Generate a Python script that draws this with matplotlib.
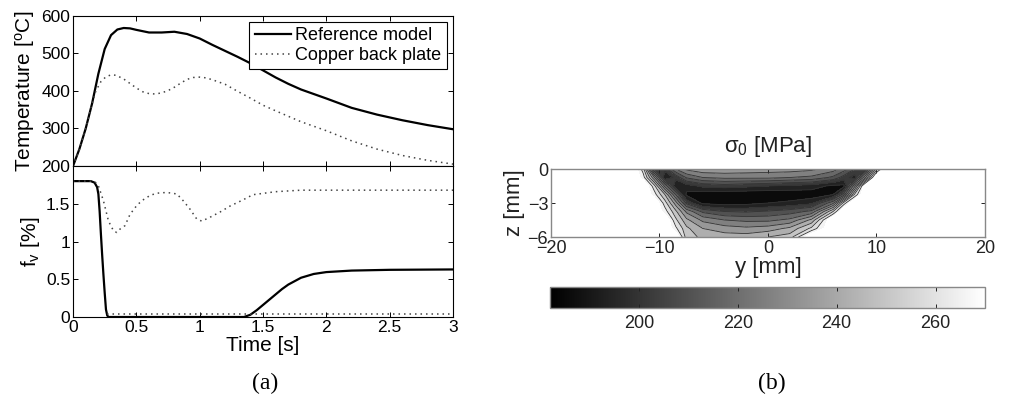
import numpy as np
import matplotlib
matplotlib.use("Agg")
import matplotlib.pyplot as plt
from matplotlib import cm, colors

plt.rcParams['font.family'] = ['Liberation Sans', 'DejaVu Sans']
plt.rcParams['mathtext.fontset'] = 'custom'
plt.rcParams['mathtext.rm'] = 'Liberation Sans'
plt.rcParams['mathtext.it'] = 'Liberation Sans:italic'
plt.rcParams['font.size'] = 12.5

# (a) temperature history
t_ref = [0, 0.05, 0.1, 0.15, 0.2, 0.25, 0.3, 0.35, 0.4, 0.45, 0.5, 0.6, 0.7, 0.8, 0.9,
         1.0, 1.1, 1.2, 1.3, 1.4, 1.5, 1.6, 1.7, 1.8, 2.0, 2.2, 2.4, 2.6, 2.8, 3.0]
T_ref = [200, 245, 300, 366, 446, 512, 549, 564, 568, 567, 563, 556, 556, 558, 552,
         540, 523, 507, 491, 474, 455, 436, 419, 404, 380, 355, 337, 322, 309, 298]

t_cu = [0, 0.05, 0.1, 0.15, 0.18, 0.22, 0.26, 0.3, 0.34, 0.4, 0.45, 0.5, 0.55, 0.6, 0.65,
        0.7, 0.75, 0.8, 0.85, 0.9, 0.95, 1.0, 1.05, 1.1, 1.2, 1.3, 1.4, 1.5, 1.6, 1.8,
        2.0, 2.2, 2.4, 2.6, 2.8, 3.0]
T_cu = [200, 245, 300, 366, 400, 425, 438, 443, 442, 432, 420, 408, 398, 393, 392,
        395, 401, 410, 421, 431, 436, 437, 435, 430, 418, 399, 381, 362, 347, 318,
        294, 267, 245, 228, 215, 205]

# (a) phase fraction
t_fv_ref = [0, 0.14, 0.17, 0.19, 0.2, 0.21, 0.22, 0.23, 0.24, 0.25, 0.26, 0.27, 0.28,
            1.35, 1.4, 1.45, 1.5, 1.55, 1.6, 1.65, 1.7, 1.8, 1.9, 2.0, 2.2, 2.5, 3.0]
fv_ref = [1.8, 1.8, 1.78, 1.72, 1.63, 1.4, 1.1, 0.82, 0.56, 0.32, 0.1, 0.02, 0.0,
          0.0, 0.03, 0.09, 0.16, 0.23, 0.30, 0.37, 0.43, 0.52, 0.57, 0.595, 0.615, 0.625, 0.63]

t_fv_cu = [0, 0.15, 0.18, 0.2, 0.24, 0.28, 0.32, 0.345, 0.371, 0.41, 0.45, 0.5, 0.542,
           0.608, 0.66, 0.74, 0.82, 0.87, 0.923, 0.976, 1.016, 1.08, 1.16, 1.24, 1.34,
           1.42, 1.6, 1.8, 3.0]
fv_cu = [1.8, 1.8, 1.78, 1.74, 1.54, 1.27, 1.14, 1.12, 1.165, 1.21, 1.36, 1.47, 1.54,
         1.61, 1.64, 1.65, 1.63, 1.54, 1.43, 1.30, 1.27, 1.32, 1.39, 1.47, 1.55,
         1.62, 1.66, 1.68, 1.68]

t_fv_cu2 = [0.27, 1.0, 2.0, 3.0]
fv_cu2 = [0.035, 0.035, 0.035, 0.035]

# (b) yield stress field, sigma_0 [MPa], rows = depth z, columns = y position
y_st = [-20, -12.5, -11.5, -10.5, -9.5, -8.5, -7.5, -6, -4, -2, 0, 2, 4, 6, 7, 8, 9, 10, 11, 20]
z_st = [0, -0.75, -1.5, -2.25, -3, -3.75, -4.5, -5.25, -6]
sig_z0 = [280, 280, 258, 198, 200, 222, 232, 236, 236, 235, 234, 234, 232, 226, 218, 206, 200, 250, 280, 280]
sig_z1 = [280, 280, 266, 232, 192, 200, 215, 222, 224, 224, 224, 222, 220, 212, 202, 194, 230, 280, 280, 280]
sig_z2 = [280, 280, 280, 258, 220, 192, 194, 200, 202, 200, 198, 196, 194, 188, 188, 228, 280, 280, 280, 280]
sig_z3 = [280, 280, 280, 266, 246, 214, 188, 184, 183, 183, 183, 184, 185, 190, 210, 256, 280, 280, 280, 280]
sig_z4 = [280, 280, 280, 280, 258, 234, 204, 188, 186, 187, 190, 192, 196, 220, 258, 280, 280, 280, 280, 280]
sig_z5 = [280, 280, 280, 280, 266, 248, 228, 212, 206, 205, 207, 210, 216, 254, 280, 280, 280, 280, 280, 280]
sig_z6 = [280, 280, 280, 280, 280, 256, 240, 228, 222, 220, 220, 224, 240, 280, 280, 280, 280, 280, 280, 280]
sig_z7 = [280, 280, 280, 280, 280, 264, 248, 238, 234, 232, 234, 240, 256, 280, 280, 280, 280, 280, 280, 280]
sig_z8 = [280, 280, 280, 280, 280, 280, 250, 244, 242, 242, 246, 250, 280, 280, 280, 280, 280, 280, 280, 280]
cbar_ticks = [200, 220, 240, 260]
sig_min, sig_max = 182, 270

fig = plt.figure(figsize=(10.13, 3.99), dpi=100)

dot = (0, (1, 2.6))
ax1 = fig.add_axes([0.0721, 0.5840, 0.3751, 0.3759])
ax1.plot(t_ref, T_ref, color='k', lw=1.6, label='Reference model')
ax1.plot(t_cu, T_cu, color='#444444', ls=dot, lw=1.1, label='Copper back plate')
ax1.set_xlim(0, 3)
ax1.set_ylim(200, 600)
ax1.set_xticks(np.arange(0, 3.01, 0.5))
ax1.set_xticklabels([])
ax1.set_yticks(range(200, 601, 100))
ax1.set_ylabel('Temperature [$^\\mathrm{o}$C]', labelpad=3, fontsize=15)
leg = ax1.legend(loc='upper right', bbox_to_anchor=(0.984, 0.962), borderaxespad=0,
                 fancybox=False, framealpha=1, edgecolor='k', handlelength=2.0,
                 handletextpad=0.25, labelspacing=0.15, borderpad=0.3, fontsize=13)
leg.get_frame().set_linewidth(0.8)

ax2 = fig.add_axes([0.0721, 0.2055, 0.3751, 0.3784])
ax2.plot(t_fv_ref, fv_ref, color='k', lw=1.6)
ax2.plot(t_fv_cu, fv_cu, color='#444444', ls=dot, lw=1.1)
ax2.plot(t_fv_cu2, fv_cu2, color='#444444', ls=dot, lw=1.1)
ax2.set_xlim(0, 3)
ax2.set_ylim(0, 2)
ax2.set_xticks(np.arange(0, 3.01, 0.5))
ax2.set_xticklabels(['0', '0.5', '1', '1.5', '2', '2.5', '3'])
ax2.set_yticks([0, 0.5, 1, 1.5])
ax2.set_yticklabels(['0', '0.5', '1', '1.5'])
ax2.set_ylabel('f$_\\mathrm{v}$ [%]', labelpad=3, fontsize=15)
ax2.set_xlabel('Time [s]', labelpad=1, fontsize=15)

for ax in (ax1, ax2):
    ax.tick_params(direction='in', top=True, right=True, length=3.5, width=0.7, pad=2)
    for s in ax.spines.values():
        s.set_linewidth(0.8)

# (b) contour
ax3 = fig.add_axes([0.5439, 0.4060, 0.4284, 0.1704])
S = np.array([sig_z0, sig_z1, sig_z2, sig_z3, sig_z4, sig_z5, sig_z6, sig_z7, sig_z8])
Yg, Zg = np.meshgrid(y_st, z_st)
levels = np.arange(sig_min, sig_max + 1, 8)
cmap = plt.get_cmap('gray').copy()
cmap.set_over('white')
norm = colors.Normalize(sig_min, sig_max)
ax3.contourf(Yg, Zg, S, levels=levels, cmap=cmap, norm=norm, extend='max')
ax3.contour(Yg, Zg, S, levels=levels[1:-1], colors='#333333', linewidths=0.6)
ax3.set_xlim(-20, 20)
ax3.set_ylim(-6, 0)
ax3.set_xticks([-20, -10, 0, 10, 20])
ax3.set_yticks([-6, -3, 0])
ax3.set_xticklabels(['\u221220', '\u221210', '0', '10', '20'])
ax3.set_yticklabels(['\u22126', '\u22123', '0'])
ax3.set_xlabel('y [mm]', labelpad=0, color='#222222', fontsize=16)
ax3.set_ylabel('z [mm]', labelpad=2, color='#222222', fontsize=16)
ax3.set_title('\u03c3$_\\mathrm{0}$ [MPa]', pad=12, fontsize=16, color='#222222')
ax3.tick_params(direction='in', top=True, right=True, length=3, width=0.7, pad=2,
                colors='#222222', labelsize=13)
for s in ax3.spines.values():
    s.set_color('#888888')
    s.set_linewidth(1.0)

cax = fig.add_axes([0.5429, 0.2281, 0.4294, 0.0526])
sm = cm.ScalarMappable(norm=norm, cmap='gray')
cb = fig.colorbar(sm, cax=cax, orientation='horizontal', ticks=cbar_ticks)
cax.tick_params(direction='in', top=True, bottom=True, length=3, width=0.7, pad=5,
                colors='#222222', labelsize=13)
cb.outline.set_edgecolor('#888888')
cb.outline.set_linewidth(1.0)

fig.text(0.2616, 1 - 383 / 399, '(a)', family='Liberation Serif', size=17,
         ha='center', va='center')
fig.text(0.7621, 1 - 383 / 399, '(b)', family='Liberation Serif', size=17,
         ha='center', va='center')

fig.savefig('out.png', dpi=100)
